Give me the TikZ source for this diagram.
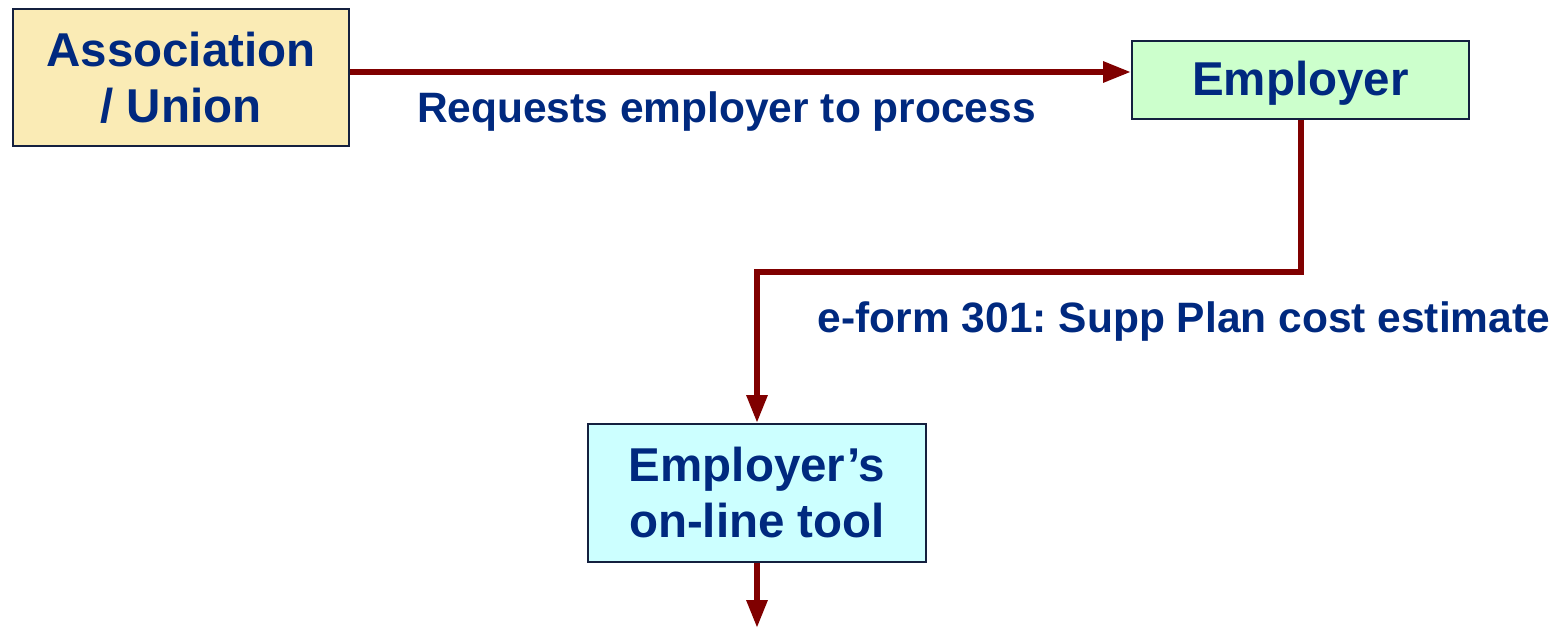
\documentclass[tikz,border=0pt]{standalone}
\usepackage{fontspec}
\setmainfont{Liberation Sans}
\usetikzlibrary{arrows.meta}
\frenchspacing

\definecolor{textblue}{HTML}{00297F}
\definecolor{boxline}{HTML}{14203F}
\definecolor{flowred}{HTML}{800000}
\definecolor{unionfill}{HTML}{FAEBB5}
\definecolor{employerfill}{HTML}{CCFFCC}
\definecolor{toolfill}{HTML}{CCFFFF}

\tikzset{
  party/.style={draw=boxline, line width=2pt, text=textblue, align=center,
    inner sep=0pt, font=\fontsize{47.5}{56}\selectfont\bfseries},
  flow/.style={draw=flowred, line width=6pt,
    -{Triangle[length=28pt,width=20pt]}},
  flowlabel/.style={text=textblue, inner sep=0pt, anchor=base,
    font=\fontsize{42.5}{50}\selectfont\bfseries}
}

\begin{document}
\begin{tikzpicture}[x=1pt,y=-1pt]
  % Canvas size in pixels of the reference
  \useasboundingbox (0,0) rectangle (1564,628);

  % The three parties
  \node[party, fill=unionfill, minimum width=336pt, minimum height=137pt]
    (union) at (181,77.5) {Association\\/ Union};
  \node[party, fill=employerfill, minimum width=337pt, minimum height=78pt,
    text height=42pt, text depth=10pt]
    (employer) at (1300.5,80) {Employer};
  \node[party, fill=toolfill, minimum width=338pt, minimum height=138pt]
    (tool) at (757,493) {Employer’s\\on-line tool};

  % Free end of the last arrow
  \coordinate (out) at (757,628);

  % Request from the union to the employer
  \draw[flow] ([yshift=5.5pt]union.east) -- ([yshift=8pt]employer.west);
  \node[flowlabel] (requestlabel) at (726.5,123) {Requests employer to process};

  % e-form from the employer to the on-line tool
  \draw[flow] (employer.south) -- (employer.south |- 0,272) -| (tool.north);
  \node[flowlabel] (eformlabel) at (1184,333) {e-form 301: Supp Plan cost estimate};

  % Output of the on-line tool
  \draw[flow] (tool.south) -- (out);
\end{tikzpicture}
\end{document}
